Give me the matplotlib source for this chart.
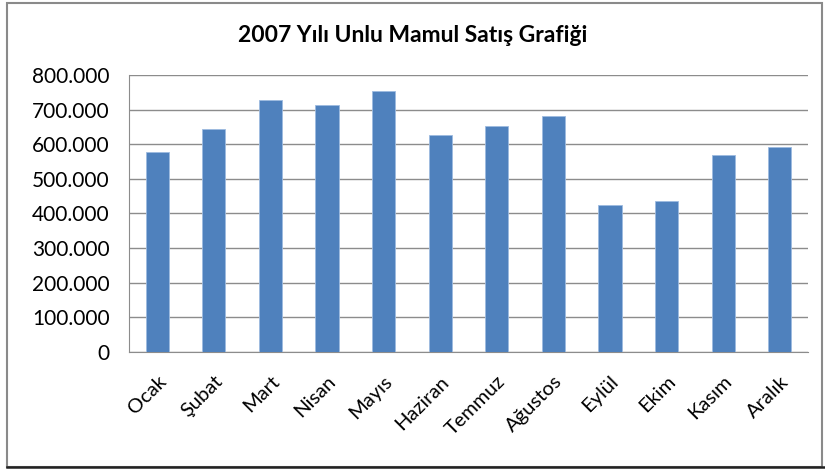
import matplotlib.pyplot as plt
from matplotlib.ticker import FuncFormatter, MultipleLocator
from matplotlib.patches import Rectangle
from matplotlib.lines import Line2D
import numpy as np

# veriler
aylar = ['Ocak', 'Şubat', 'Mart', 'Nisan', 'Mayıs', 'Haziran',
         'Temmuz', 'Ağustos', 'Eylül', 'Ekim', 'Kasım', 'Aralık']
satis = [578000, 643000, 727000, 712000, 754000, 626000,
         653000, 682000, 424000, 437000, 569000, 592000]

baslik = '2007 Yılı Unlu Mamul Satış Grafiği'

plt.rcParams['font.family'] = ['Lato', 'DejaVu Sans']

fig = plt.figure(figsize=(8.25, 4.7), dpi=100)
ax = fig.add_axes([129 / 825, 1 - 352 / 470, (808 - 129) / 825, (352 - 75) / 470])

x = np.arange(len(aylar))
ax.bar(x, satis, width=0.41, color='#4F81BD', edgecolor='#9DBBE0', linewidth=0.6, zorder=3)

ax.set_xlim(-0.5, len(aylar) - 0.5)
ax.set_ylim(0, 800000)
ax.yaxis.set_major_locator(MultipleLocator(100000))
ax.yaxis.set_major_formatter(FuncFormatter(lambda v, p: '0' if v == 0 else '{:,.0f}'.format(v).replace(',', '.')))
ax.grid(axis='y', color='#8c8c8c', linewidth=1, zorder=0)

ax.set_xticks(x)
ax.set_xticklabels(aylar, rotation=45, ha='right', rotation_mode='anchor', fontsize=14.5)
ax.tick_params(axis='y', labelsize=15, length=0, pad=14)
ax.tick_params(axis='x', length=0, pad=15)

for s in ['top', 'right']:
    ax.spines[s].set_visible(False)
ax.spines['left'].set_color('#8c8c8c')
ax.spines['bottom'].set_color('#8c8c8c')

fig.text(0.5, 1 - 36 / 470, baslik, ha='center', va='center', fontsize=16.5, fontweight='bold')

# dis cerceve
fig.patches.append(Rectangle((7 / 825, 1 - 467 / 470), 815 / 825, 464 / 470,
                             transform=fig.transFigure, fill=False,
                             edgecolor='#8a8a8a', linewidth=1.5))
fig.lines.append(Line2D([7 / 825, 1], [1 - 467 / 470] * 2, transform=fig.transFigure,
                        color='#222222', linewidth=1.8))

plt.savefig('out.png', dpi=100)
